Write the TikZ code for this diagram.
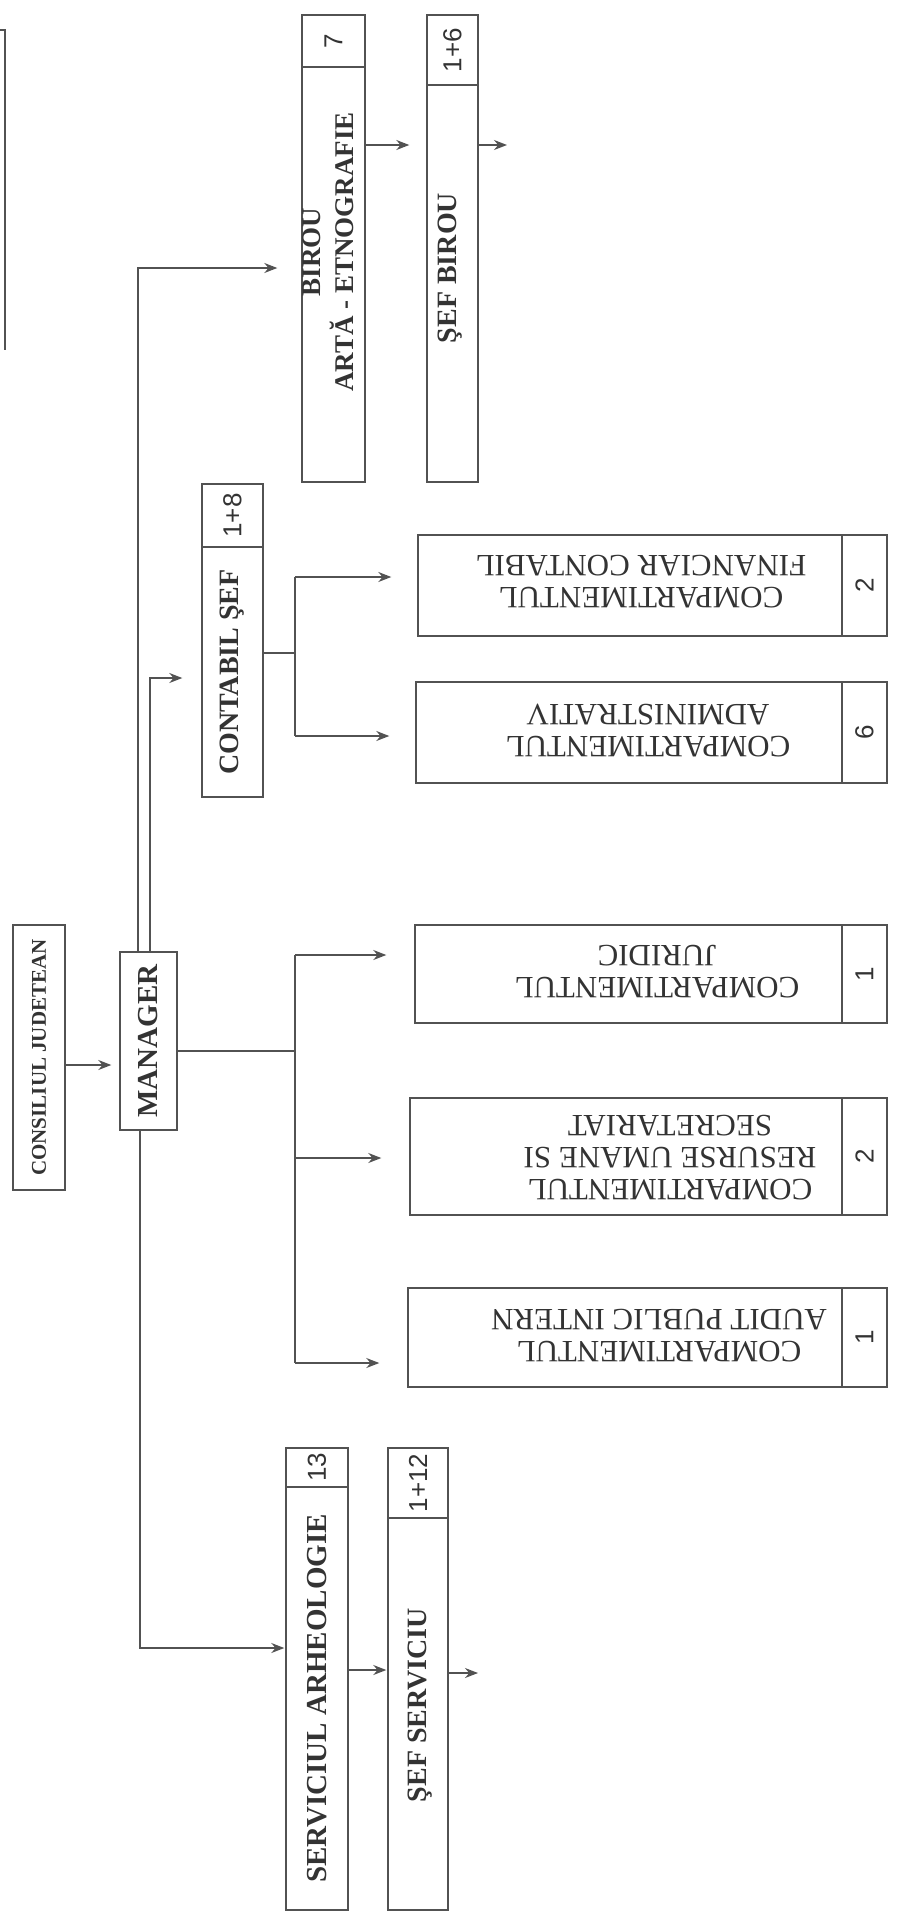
\documentclass[tikz,border=0pt]{standalone}
\usepackage{fontspec}
\setmainfont{Liberation Serif}
\newfontfamily\numfont{Liberation Sans}
\usetikzlibrary{arrows.meta,calc}
\definecolor{ln}{gray}{0.32}
\definecolor{tx}{gray}{0.2}
\tikzset{
  box/.style={draw=ln, line width=1.4pt, inner sep=0pt, text=tx, align=center},
  conn/.style={draw=ln, line width=1.4pt},
  arr/.style={conn, -{Stealth[length=13pt,width=10pt]}},
  bt/.style={font=\fontsize{#1}{#1}\selectfont\bfseries},
  nt/.style={font=\fontsize{26}{26}\selectfont\numfont},
  ct/.style={font=\fontsize{31}{32}\selectfont, text=tx, inner sep=0pt},
  lbl/.style={text=tx, inner sep=0pt},
}
\begin{document}
\begin{tikzpicture}[x=1pt,y=-1pt]
\useasboundingbox (0,0) rectangle (900,1922);
% partial box at the top-left edge
\draw[conn] (0,30) -- (5,30) -- (5,350);

% vertical boxes
\node[box, bt=21, minimum width=52pt, minimum height=265pt] (cj) at (39,1057.5) {\rotatebox{90}{CONSILIUL JUDETEAN}};
\node[box, bt=29, minimum width=57pt, minimum height=178pt] (mgr) at (148.5,1041) {\rotatebox{90}{MANAGER}};

\node[box, bt=28, minimum width=61pt, minimum height=250pt] (cs) at (232.5,672) {\rotatebox{90}{CONTABIL ŞEF}};
\node[box, nt, minimum width=61pt, minimum height=63pt] (csn) at (232.5,515.5) {\rotatebox{90}{1+8}};

\node[box, minimum width=63pt, minimum height=415pt] (bir) at (333.5,274.5) {};
\node[lbl, font=\fontsize{27}{30}\selectfont\bfseries] (birt) at (331,252)
  {\rotatebox{90}{\begin{tabular}{@{}c@{}}BIROU\\ARTĂ - ETNOGRAFIE\end{tabular}}};
\node[box, nt, minimum width=63pt, minimum height=52pt] (birn) at (333.5,41) {\rotatebox{90}{7}};

\node[box, minimum width=51pt, minimum height=397pt] (sb) at (452.5,283.5) {};
\node[lbl, bt=28] (sbt) at (450,268) {\rotatebox{90}{ŞEF BIROU}};
\node[box, nt, minimum width=51pt, minimum height=70pt] (sbn) at (452.5,50) {\rotatebox{90}{1+6}};

\node[box, bt=29, minimum width=62pt, minimum height=423pt] (sa) at (317,1698.5) {\rotatebox{90}{SERVICIUL ARHEOLOGIE}};
\node[box, nt, minimum width=62pt, minimum height=39pt] (san) at (317,1467.5) {\rotatebox{90}{13}};

\node[box, minimum width=60pt, minimum height=392pt] (ss) at (418,1714) {};
\node[lbl, bt=28] (sst) at (420,1705) {\rotatebox{90}{ŞEF SERVICIU}};
\node[box, nt, minimum width=60pt, minimum height=70pt] (ssn) at (418,1483) {\rotatebox{90}{1+12}};

% compartment boxes (text upside down)
\node[box, minimum width=424pt, minimum height=101pt] (fin) at (630,585.5) {};
\node[ct] (fint) at (641,578)
  {\rotatebox{180}{\begin{tabular}{@{}c@{}}COMPARTIMENTUL\\FINANCIAR CONTABIL\end{tabular}}};
\node[box, nt, minimum width=45pt, minimum height=101pt] (finn) at (864.5,585.5) {\rotatebox{90}{2}};

\node[box, minimum width=426pt, minimum height=101pt] (adm) at (629,732.5) {};
\node[ct] (admt) at (648,727)
  {\rotatebox{180}{\begin{tabular}{@{}c@{}}COMPARTIMENTUL\\ADMINISTRATIV\end{tabular}}};
\node[box, nt, minimum width=45pt, minimum height=101pt] (admn) at (864.5,732.5) {\rotatebox{90}{6}};

\node[box, minimum width=427pt, minimum height=98pt] (jur) at (628.5,974) {};
\node[ct] (jurt) at (657,968)
  {\rotatebox{180}{\begin{tabular}{@{}c@{}}COMPARTIMENTUL\\JURIDIC\end{tabular}}};
\node[box, nt, minimum width=45pt, minimum height=98pt] (jurn) at (864.5,974) {\rotatebox{90}{1}};

\node[box, minimum width=432pt, minimum height=117pt] (res) at (626,1156.5) {};
\node[ct] (rest) at (670,1154)
  {\rotatebox{180}{\begin{tabular}{@{}c@{}}COMPARTIMENTUL\\RESURSE UMANE SI\\SECRETARIAT\end{tabular}}};
\node[box, nt, minimum width=45pt, minimum height=117pt] (resn) at (864.5,1156.5) {\rotatebox{90}{2}};

\node[box, minimum width=434pt, minimum height=99pt] (aud) at (625,1337.5) {};
\node[ct] (audt) at (659,1332)
  {\rotatebox{180}{\begin{tabular}{@{}c@{}}COMPARTIMENTUL\\AUDIT PUBLIC INTERN\end{tabular}}};
\node[box, nt, minimum width=45pt, minimum height=99pt] (audn) at (864.5,1337.5) {\rotatebox{90}{1}};

% helper coordinates
\coordinate (k1) at (0,1065);
\coordinate (kb) at (138,268);
\coordinate (kc) at (150,678);
\coordinate (ka) at (140,1648);
\coordinate (bm) at (295,1051);
\coordinate (bj) at (295,955);
\coordinate (br) at (295,1158);
\coordinate (ba) at (295,1363);
\coordinate (cm) at (295,653);
\coordinate (cf) at (295,577);
\coordinate (ca) at (295,736);
\coordinate (kbs) at (0,145);
\coordinate (sbend) at (507,145);
\coordinate (kss) at (0,1670);
\coordinate (ssend) at (478,1673);

% connectors
\draw[arr, shorten >=8pt] (k1 -| cj.east) -- (k1 -| mgr.west);
\draw[arr, shorten >=24pt] (mgr.north -| kb) |- (kb -| bir.west);
\draw[arr, shorten >=19pt] (mgr.north -| kc) |- (kc -| cs.west);
\draw[arr, shorten >=1pt] (mgr.south -| ka) |- (ka -| sa.west);

\draw[conn] (bm -| mgr.east) -- (bm);
\draw[conn] (bj) -- (ba);
\draw[arr, shorten >=28pt] (bj) -- (bj -| jur.west);
\draw[arr, shorten >=28pt] (br) -- (br -| res.west);
\draw[arr, shorten >=28pt] (ba) -- (ba -| aud.west);

\draw[conn] (cm -| cs.east) -- (cm);
\draw[conn] (cf) -- (ca);
\draw[arr, shorten >=26pt] (cf) -- (cf -| fin.west);
\draw[arr, shorten >=26pt] (ca) -- (ca -| adm.west);

\draw[arr, shorten >=17pt] (kbs -| bir.east) -- (kbs -| sb.west);
\draw[arr] (kbs -| sb.east) -- (sbend);
\draw[arr, shorten >=1pt] (kss -| sa.east) -- (kss -| ss.west);
\draw[arr] (ssend -| ss.east) -- (ssend);
\end{tikzpicture}
\end{document}
